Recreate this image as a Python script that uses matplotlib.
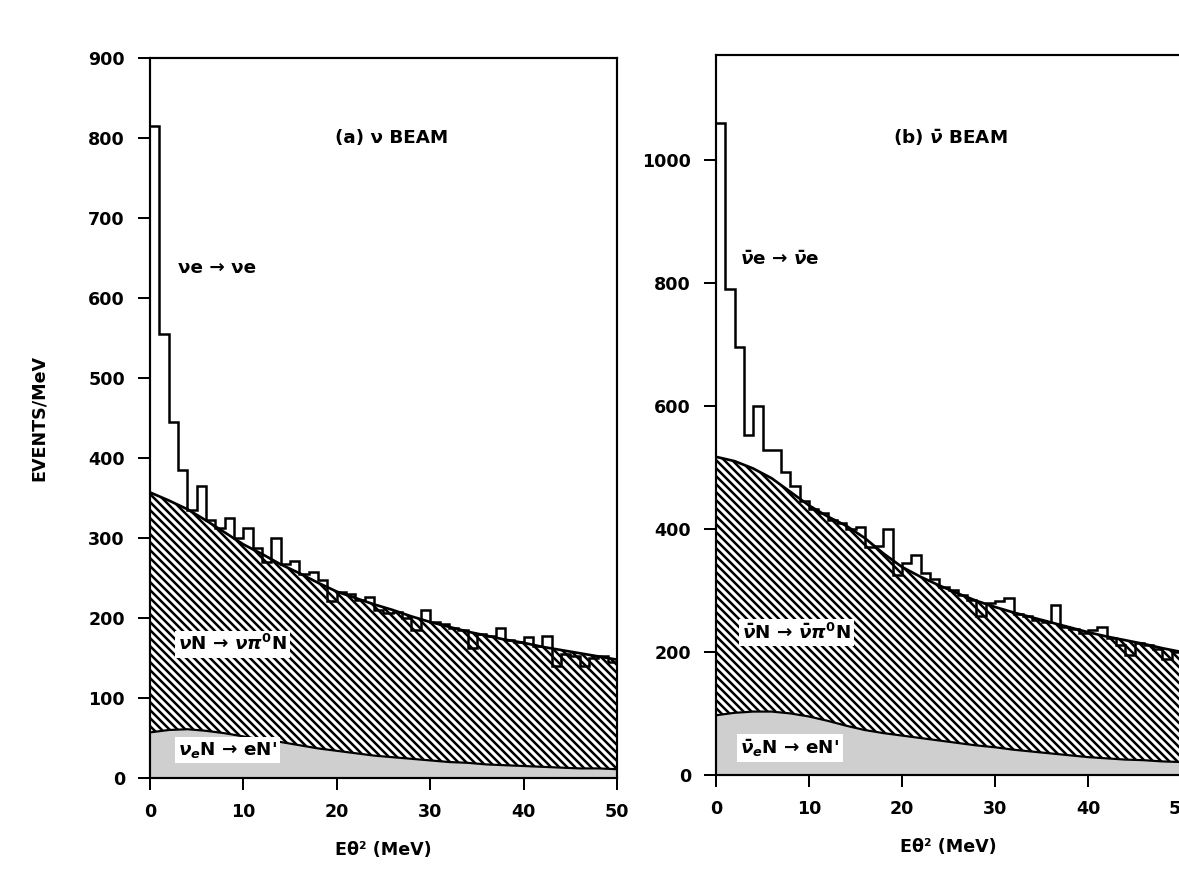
import numpy as np
import matplotlib
matplotlib.use('Agg')
import matplotlib.pyplot as plt

plt.rcParams['font.family'] = ['DejaVu Sans']
plt.rcParams['font.weight'] = 'bold'
plt.rcParams['axes.labelweight'] = 'bold'
plt.rcParams['mathtext.fontset'] = 'dejavusans'
plt.rcParams['hatch.linewidth'] = 1.5

# bin edges (1 MeV bins) and curve sample points
edges = np.arange(0, 51)
xc = np.arange(0, 51, 2)

# (a) neutrino beam
hist_a = [815, 555, 445, 385, 335, 365, 322, 312, 325, 300,
          313, 288, 270, 300, 268, 271, 255, 257, 248, 221,
          232, 230, 222, 226, 210, 206, 208, 200, 185, 210,
          195, 192, 188, 185, 163, 180, 177, 188, 172, 170,
          176, 165, 177, 140, 155, 152, 140, 150, 152, 145]
pi0_a = [357, 347, 336, 322, 307, 292, 280, 267, 256, 244, 233, 225, 217,
         210, 202, 195, 189, 183, 178, 173, 169, 164, 160, 156, 152, 148]
nue_a = [57, 60, 61, 59, 56, 52, 48, 45, 41, 37, 34, 31, 28,
         26, 24, 22, 20, 19, 17, 16, 15, 14, 13, 12, 12, 11]

# (b) antineutrino beam
hist_b = [1060, 790, 695, 552, 600, 528, 528, 493, 470, 445,
          432, 425, 415, 410, 400, 403, 370, 372, 400, 325,
          345, 358, 328, 318, 305, 300, 293, 285, 258, 280,
          283, 288, 262, 258, 252, 248, 276, 240, 238, 231,
          236, 240, 222, 212, 195, 215, 212, 205, 188, 200]
pi0_b = [517, 510, 498, 482, 460, 438, 420, 405, 385, 360, 338, 322, 308,
         295, 283, 273, 264, 256, 248, 240, 232, 225, 219, 213, 206, 200]
nue_b = [97, 101, 103, 103, 100, 95, 88, 80, 73, 68, 64, 60, 56,
         52, 48, 45, 41, 38, 35, 32, 29, 27, 25, 24, 22, 21]

fig = plt.figure(figsize=(9.825, 7.275), dpi=120)
ax1 = fig.add_axes([0.1272, 0.1088, 0.3961, 0.8248])
ax2 = fig.add_axes([0.6073, 0.1123, 0.3944, 0.8247])


def draw_panel(ax, hist, pi0, nue, ymax):
    ax.fill_between(xc, 0, nue, facecolor='#cfcfcf', edgecolor='none', zorder=1)
    ax.fill_between(xc, nue, pi0, facecolor='white', edgecolor='black',
                    hatch='\\' * 5, linewidth=0, zorder=1)
    ax.plot(xc, pi0, color='black', lw=1.6, zorder=3)
    ax.plot(xc, nue, color='black', lw=1.3, zorder=3)
    ax.stairs(hist, edges, baseline=None, color='black', lw=1.5, zorder=4)
    ax.set_xlim(0, 50)
    ax.set_ylim(0, ymax)
    ax.set_xticks([0, 10, 20, 30, 40, 50])
    ax.tick_params(direction='out', length=7, width=1.2, labelsize=10.5, pad=8)
    for s in ax.spines.values():
        s.set_linewidth(1.3)
    ax.set_xlabel('Eθ² (MeV)', fontsize=10.5, labelpad=12)


box = dict(facecolor='white', edgecolor='none', pad=2)

draw_panel(ax1, hist_a, pi0_a, nue_a, 900)
ax1.set_yticks(np.arange(0, 901, 100))
ax1.set_ylabel('EVENTS/MeV', fontsize=10.5, labelpad=24)
ax1.text(25.9, 800, '(a) ν BEAM', ha='center', va='center', fontsize=11)
ax1.text(3.0, 637, 'νe → νe', ha='left', va='center', fontsize=11)
ax1.text(3.0, 167, r'$\nu$N → $\nu\pi^0$N', ha='left', va='center',
         fontsize=11, bbox=box, zorder=5)
ax1.text(3.0, 35, r"$\nu_e$N → eN'", ha='left', va='center',
         fontsize=11, bbox=box, zorder=5)

draw_panel(ax2, hist_b, pi0_b, nue_b, 1170)
ax2.set_yticks(np.arange(0, 1001, 200))
ax2.text(25.2, 1036, r'(b) $\bar{\nu}$ BEAM', ha='center', va='center', fontsize=11)
ax2.text(2.6, 837, r'$\bar{\nu}$e → $\bar{\nu}$e', ha='left', va='center', fontsize=11)
ax2.text(2.8, 231, r'$\bar{\nu}$N → $\bar{\nu}\pi^0$N', ha='left', va='center',
         fontsize=11, bbox=box, zorder=5)
ax2.text(2.6, 44, r"$\bar{\nu}_e$N → eN'", ha='left', va='center',
         fontsize=11, bbox=box, zorder=5)

fig.savefig('out.png', dpi=120)
